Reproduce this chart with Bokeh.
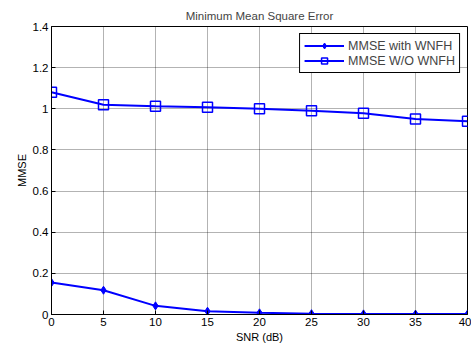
from bokeh.plotting import figure
from bokeh.embed import file_html
from bokeh.resources import INLINE
from bokeh.models import Range1d, FixedTicker, Legend

snr = [0, 5, 10, 15, 20, 25, 30, 35, 40]
mmse_with = [0.155, 0.118, 0.042, 0.016, 0.008, 0.004, 0.003, 0.002, 0.002]
mmse_without = [1.08, 1.02, 1.012, 1.007, 1.0, 0.99, 0.978, 0.95, 0.94]
xticks = [0, 5, 10, 15, 20, 25, 30, 35, 40]
yticks = [0, 0.2, 0.4, 0.6, 0.8, 1.0, 1.2, 1.4]

FONT = "Liberation Sans"
p = figure(width=471, height=345, output_backend="svg", toolbar_location=None,
           x_range=Range1d(0, 40), y_range=Range1d(0, 1.4),
           min_border_left=51, min_border_right=4, min_border_top=26, min_border_bottom=29,
           title="Minimum Mean Square Error")
p.title.text_font = FONT
p.title.text_font_size = "11.5px"
p.title.text_font_style = "normal"
p.title.align = "center"
p.title.offset = 0

p.outline_line_color = "black"
p.outline_line_width = 1
p.outline_line_alpha = 1

for ax in (p.xaxis, p.yaxis):
    ax.major_tick_in = 4
    ax.major_tick_out = 0
    ax.minor_tick_line_color = None
    ax.axis_line_color = "black"
    ax.major_label_text_font = FONT
    ax.major_label_text_font_size = "11.5px"
    ax.major_label_text_color = "black"
    ax.axis_label_text_font = FONT
    ax.axis_label_text_font_size = "11px"
    ax.axis_label_text_font_style = "normal"
    ax.axis_label_text_color = "black"
    ax.major_label_standoff = 3
    ax.axis_label_standoff = 2

p.xaxis.ticker = FixedTicker(ticks=xticks)
p.yaxis.ticker = FixedTicker(ticks=yticks)
p.yaxis.major_label_overrides = {0: "0", 0.2: "0.2", 0.4: "0.4", 0.6: "0.6", 0.8: "0.8", 1.0: "1", 1.2: "1.2", 1.4: "1.4"}
p.xaxis.axis_label = "SNR (dB)"
p.yaxis.axis_label = "MMSE"

p.grid.grid_line_color = "black"
p.grid.grid_line_alpha = 0.6
p.grid.grid_line_dash = "1 1"

blue = "#0000FF"
l1 = p.line(snr, mmse_with, line_color=blue, line_width=2)
s1 = p.scatter(snr, mmse_with, marker="diamond", size=8, fill_color=blue, line_color=blue)
l2 = p.line(snr, mmse_without, line_color=blue, line_width=2)
s2 = p.scatter(snr, mmse_without, marker="square", size=10, fill_color=None, line_color=blue, line_width=1.5)

legend = Legend(items=[("MMSE with WNFH", [l1, s1]), ("MMSE W/O WNFH", [l2, s2])],
                location="top_right")
legend.label_text_font = FONT
legend.label_text_font_size = "12.5px"
legend.border_line_color = "black"
legend.border_line_alpha = 1
legend.border_line_width = 1
legend.spacing = 0
legend.padding = 4
legend.margin = 7
legend.glyph_height = 15
legend.label_height = 15
legend.glyph_width = 40
legend.label_standoff = 4
legend.background_fill_alpha = 1
p.add_layout(legend)

open("out.html", "w").write(file_html(p, INLINE))
